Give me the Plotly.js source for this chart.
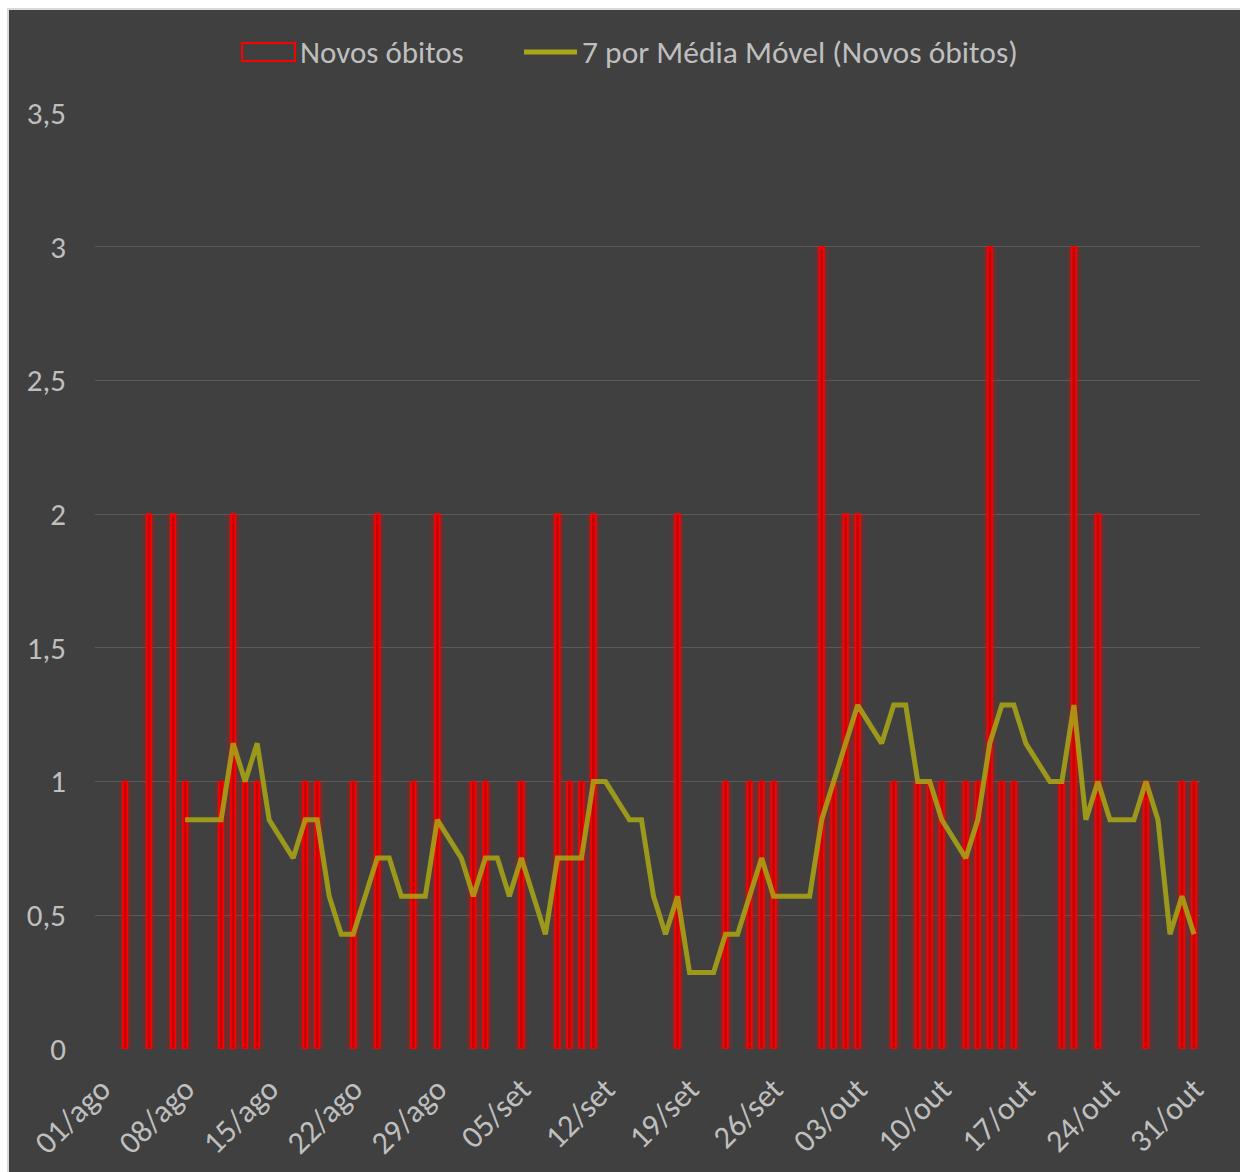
<!DOCTYPE html>
<html>
<head>
<meta charset="utf-8">
<script src="https://cdn.plot.ly/plotly-3.0.1.min.js"></script>
<style>
  html, body { margin: 0; padding: 0; background: #ffffff; width: 1240px; height: 1172px; overflow: hidden; }
  #frame { position: absolute; left: 7px; top: 8px; width: 1233px; height: 1164px; background: #d9d9d9; }
  #chart { position: absolute; left: 9px; top: 10px; width: 1231px; height: 1162px; }
</style>
</head>
<body>
<div id="frame"></div>
<div id="chart"></div>
<script>
// ---- data ----
const months = ["ago", "set", "out"];
const monthDays = [31, 30, 31];

// daily new deaths, 01/ago .. 31/out (Sundays have no record -> 0 bar)
const novosObitos = [
  0,0,1,0,2,0,2,1,0,0,1,2,1,1,0,0,0,1,1,0,0,1,0,2,0,0,1,0,2,0,0,
  1,1,0,0,1,0,0,2,1,1,2,0,0,0,0,0,0,2,0,0,0,1,0,1,1,1,0,0,0,
  3,1,2,2,0,0,1,0,1,1,1,0,1,1,3,1,1,0,0,0,1,3,0,2,0,0,0,1,0,0,1,1
];

// 7-point moving average (null = date without record)
const mediaMovel = [
  null,null,null,null,null,null,null,0.857,null,0.857,0.857,1.143,1.000,1.143,0.857,null,
  0.714,0.857,0.857,0.571,0.429,0.429,null,0.714,0.714,0.571,0.571,0.571,0.857,null,0.714,
  0.571,0.714,0.714,0.571,0.714,null,0.429,0.714,0.714,0.714,1.000,1.000,null,0.857,0.857,
  0.571,0.429,0.571,0.286,null,0.286,0.429,0.429,0.571,0.714,0.571,null,0.571,0.571,
  0.857,1.000,1.143,1.286,null,1.143,1.286,1.286,1.000,1.000,0.857,null,0.714,0.857,1.143,
  1.286,1.286,1.143,null,1.000,1.000,1.286,0.857,1.000,0.857,null,0.857,1.000,0.857,0.429,0.571,0.429
];

const yTickVals = [0, 0.5, 1, 1.5, 2, 2.5, 3, 3.5];
const legendNames = ["Novos óbitos", "7 por Média Móvel (Novos óbitos)"];

// ---- categories ----
const dates = [];
months.forEach((m, mi) => {
  for (let d = 1; d <= monthDays[mi]; d++) dates.push(String(d).padStart(2, "0") + "/" + m);
});
const xTickVals = dates.filter((_, i) => i % 7 === 0);
// zero days draw no bar at all
const barY = novosObitos.map(v => (v === 0 ? null : v));

const FONT = "Carlito, Calibri, Lato, 'Noto Sans', sans-serif";
const TXT = "#bfbfbf";
const FS = 31;

const traces = [
  { type: "bar", x: dates, y: barY, width: 1.15, marker: { color: "rgba(255,0,0,0.15)", line: { width: 0 } }, hoverinfo: "skip", showlegend: false },
  { type: "bar", x: dates, y: barY, width: 0.72, marker: { color: "rgba(255,0,0,0.22)", line: { width: 0 } }, hoverinfo: "skip", showlegend: false },
  { type: "bar", x: dates, y: barY, width: 0.37, name: legendNames[0],
    marker: { color: "rgba(205,0,0,0.9)", line: { color: "#ff0000", width: 1.6 } }, showlegend: false },
  { type: "scatter", mode: "lines", x: dates, y: mediaMovel, connectgaps: true, name: legendNames[1],
    line: { color: "rgba(170,166,22,0.86)", width: 5, shape: "linear" }, showlegend: false }
];

// legend drawn in paper coordinates
const L = 95, R = 1200, T = 113, B = 1049;
const px = v => (v - L) / (R - L);
const py = v => (B - v) / (B - T);

const layout = {
  width: 1231, height: 1162,
  margin: { l: 86, r: 40, t: 103, b: 123 },
  paper_bgcolor: "#404040", plot_bgcolor: "#404040",
  separators: ",.",
  barmode: "overlay",
  bargap: 0,
  showlegend: false,
  font: { family: FONT, color: TXT, size: FS },
  xaxis: {
    type: "category", tickmode: "array", tickvals: xTickVals, ticktext: xTickVals,
    tickangle: -45, showgrid: false, zeroline: false, showline: false, ticks: "",
    tickfont: { family: FONT, size: FS + 1, color: TXT }, ticklabelstandoff: 14,
    range: [-0.5, dates.length - 0.5]
  },
  yaxis: {
    range: [0, 3.5], tickmode: "array", tickvals: yTickVals,
    showgrid: true, gridcolor: "#5a5a5a", gridwidth: 1,
    zeroline: true, zerolinecolor: "#404040", showline: false, ticks: "",
    tickfont: { family: FONT, size: FS, color: TXT }, ticklabelstandoff: 28
  },
  shapes: [
    { type: "rect", xref: "paper", yref: "paper", x0: px(242), x1: px(295), y0: py(61), y1: py(43),
      line: { color: "#ff0000", width: 2 }, fillcolor: "rgba(0,0,0,0)" },
    { type: "line", xref: "paper", yref: "paper", x0: px(524), x1: px(577), y0: py(52), y1: py(52),
      line: { color: "#a8a616", width: 5 } }
  ],
  annotations: [
    { xref: "paper", yref: "paper", x: px(298), y: py(52), xanchor: "left", yanchor: "middle",
      text: legendNames[0], showarrow: false, font: { family: FONT, size: FS, color: TXT } },
    { xref: "paper", yref: "paper", x: px(580), y: py(52), xanchor: "left", yanchor: "middle",
      text: legendNames[1], showarrow: false, font: { family: FONT, size: FS + 0.5, color: TXT } }
  ]
};

Plotly.newPlot("chart", traces, layout, { displayModeBar: false, staticPlot: true });
</script>
</body>
</html>
